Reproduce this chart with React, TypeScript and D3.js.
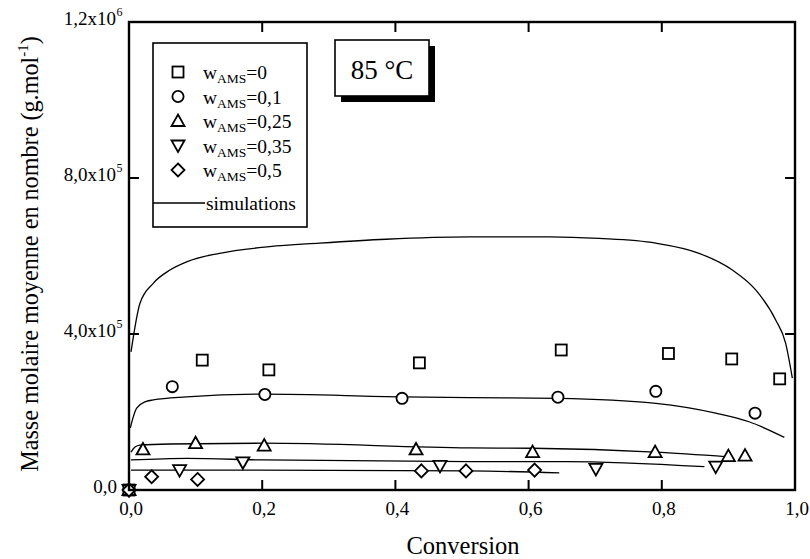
import React from "react";
import * as d3 from "d3";

const xTicks = [0, 0.2, 0.4, 0.6, 0.8, 1.0];
const xTickLabels = ["0,0", "0,2", "0,4", "0,6", "0,8", "1,0"];
const yTicks = [0, 4e5, 8e5, 1.2e6];
const yTickMant = ["0,0", "4,0x10", "8,0x10", "1,2x10"];
const yTickExp = ["", "5", "5", "6"];

const sq: [number, number][] = [[0, 0], [0.11, 333000], [0.21, 308000], [0.436, 326000], [0.649, 359000], [0.81, 350000], [0.905, 336000], [0.977, 285000]];
const ci: [number, number][] = [[0, 0], [0.065, 265000], [0.204, 245000], [0.41, 235000], [0.644, 238000], [0.791, 253000], [0.94, 197000]];
const tr: [number, number][] = [[0, 0], [0.021, 104000], [0.1, 120000], [0.203, 114000], [0.431, 104000], [0.606, 97000], [0.79, 97000], [0.9, 87000], [0.925, 88000]];
const it: [number, number][] = [[0, 0], [0.076, 51000], [0.171, 71000], [0.467, 62000], [0.701, 54000], [0.881, 60000]];
const di: [number, number][] = [[0, 0], [0.034, 34000], [0.103, 27000], [0.439, 49000], [0.506, 49000], [0.609, 51000]];

const sim0: [number, number][] = [[0.003, 354000], [0.0165, 479000], [0.0364, 530000], [0.0615, 564000], [0.0865, 585000], [0.136, 607000], [0.211, 624000], [0.286, 633000], [0.386, 643000], [0.511, 649000], [0.631, 649000], [0.706, 645000], [0.791, 633000], [0.856, 607000], [0.906, 564000], [0.941, 513000], [0.971, 436000], [0.986, 376000], [0.996, 287000]];
const sim1: [number, number][] = [[0.002, 159000], [0.006, 185000], [0.0115, 210000], [0.024, 226000], [0.0364, 231000], [0.0865, 239000], [0.201, 246000], [0.411, 239000], [0.511, 237000], [0.644, 235000], [0.791, 222000], [0.881, 197000], [0.931, 175000], [0.984, 135000]];
const sim25: [number, number][] = [[0.003, 97000], [0.009, 110000], [0.0165, 115000], [0.0615, 118000], [0.201, 120000], [0.511, 108000], [0.606, 107000], [0.79, 97000], [0.9, 85000]];
const sim35: [number, number][] = [[0.003, 77000], [0.0865, 81000], [0.201, 77000], [0.511, 73000], [0.656, 73000], [0.864, 60000]];
const sim5: [number, number][] = [[0.003, 51000], [0.186, 51000], [0.511, 49000], [0.646, 44000]];

const legendLabels = ["0", "0,1", "0,25", "0,35", "0,5"];
const shapes = ["square", "circle", "tri", "itri", "diamond"];

const L = 129, R = 795, T = 22, B = 490;
const x = d3.scaleLinear().domain([0, 1]).range([L, R]);
const y = d3.scaleLinear().domain([0, 1.2e6]).range([B, T]);

const font = "'Liberation Serif', 'Times New Roman', serif";

function Marker({ shape, cx, cy }: { shape: string; cx: number; cy: number }) {
  const st = { fill: "white", stroke: "black", strokeWidth: 1.8 };
  if (shape === "square") return <rect x={cx - 5.5} y={cy - 5.5} width={11} height={11} {...st} />;
  if (shape === "circle") return <circle cx={cx} cy={cy} r={5.6} {...st} />;
  if (shape === "tri") return <path d={`M${cx},${cy - 6.5}L${cx + 6.5},${cy + 5}L${cx - 6.5},${cy + 5}Z`} {...st} />;
  if (shape === "itri") return <path d={`M${cx},${cy + 6.5}L${cx + 6.5},${cy - 5}L${cx - 6.5},${cy - 5}Z`} {...st} />;
  return <path d={`M${cx},${cy - 6.5}L${cx + 6.5},${cy}L${cx},${cy + 6.5}L${cx - 6.5},${cy}Z`} {...st} />;
}

export default function App() {
  const line = d3.line<[number, number]>().x((d) => x(d[0])).y((d) => y(d[1])).curve(d3.curveMonotoneX);
  const series = [sq, ci, tr, it, di];
  const sims = [sim0, sim1, sim25, sim35, sim5];
  const legX = 153, legY = 43, legW = 154, legH = 184;
  const rowY = [72, 96.5, 121, 145.5, 170];
  return (
    <svg width={810} height={559} style={{ position: "absolute", left: 0, top: 0 }} fontFamily={font}>
      <rect width={810} height={559} fill="white" />
      {sims.map((s, i) => (
        <path key={i} d={line(s) || ""} fill="none" stroke="black" strokeWidth={1.3} />
      ))}
      {series.map((s, i) =>
        s.map((d, j) => <Marker key={i + "-" + j} shape={shapes[i]} cx={x(d[0])} cy={y(d[1])} />)
      )}
      <rect x={L} y={T} width={R - L} height={B - T} fill="none" stroke="black" strokeWidth={2.4} />
      {xTicks.map((t, i) => (
        <g key={"xt" + i}>
          <line x1={x(t)} x2={x(t)} y1={B} y2={B - 10} stroke="black" strokeWidth={2} />
          <line x1={x(t)} x2={x(t)} y1={T} y2={T + 10} stroke="black" strokeWidth={2} />
          <text x={x(t) + 2} y={B + 25} fontSize={19} textAnchor="middle">{xTickLabels[i]}</text>
        </g>
      ))}
      {yTicks.map((t, i) => (
        <g key={"yt" + i}>
          <line x1={L} x2={L + 10} y1={y(t)} y2={y(t)} stroke="black" strokeWidth={2} />
          <line x1={R} x2={R - 10} y1={y(t)} y2={y(t)} stroke="black" strokeWidth={2} />
          <text x={yTickExp[i] ? 116 : 117} y={y(t) + 3} fontSize={19} textAnchor="end">
            {yTickMant[i]}
          </text>
          {yTickExp[i] ? <text x={116.5} y={y(t) - 6} fontSize={12}>{yTickExp[i]}</text> : null}
        </g>
      ))}
      <text x={463} y={554} fontSize={24.5} textAnchor="middle">Conversion</text>
      <text transform={`translate(38,${254}) rotate(-90)`} fontSize={24.2} textAnchor="middle">
        Masse molaire moyenne en nombre (g.mol<tspan fontSize={15} dy={-10}>-1</tspan><tspan dy={10}>)</tspan>
      </text>
      {/* legend */}
      <rect x={legX} y={legY} width={legW} height={legH} fill="white" stroke="black" strokeWidth={1.6} />
      {legendLabels.map((lab, i) => (
        <g key={"lg" + i}>
          <Marker shape={shapes[i]} cx={178} cy={rowY[i]} />
          <text x={203} y={rowY[i] + 7} fontSize={19.5}>
            w<tspan fontSize={13.5} dy={4}>AMS</tspan><tspan dy={-4}>={lab}</tspan>
          </text>
        </g>
      ))}
      <line x1={legX} x2={205} y1={203} y2={203} stroke="black" strokeWidth={1.3} />
      <text x={206} y={210} fontSize={19.5}>simulations</text>
      {/* title box */}
      <rect x={341} y={46} width={94} height={56} fill="black" />
      <rect x={335} y={40} width={94} height={56} fill="white" stroke="black" strokeWidth={1.6} />
      <text x={382} y={79} fontSize={27} textAnchor="middle">85 °C</text>
    </svg>
  );
}
